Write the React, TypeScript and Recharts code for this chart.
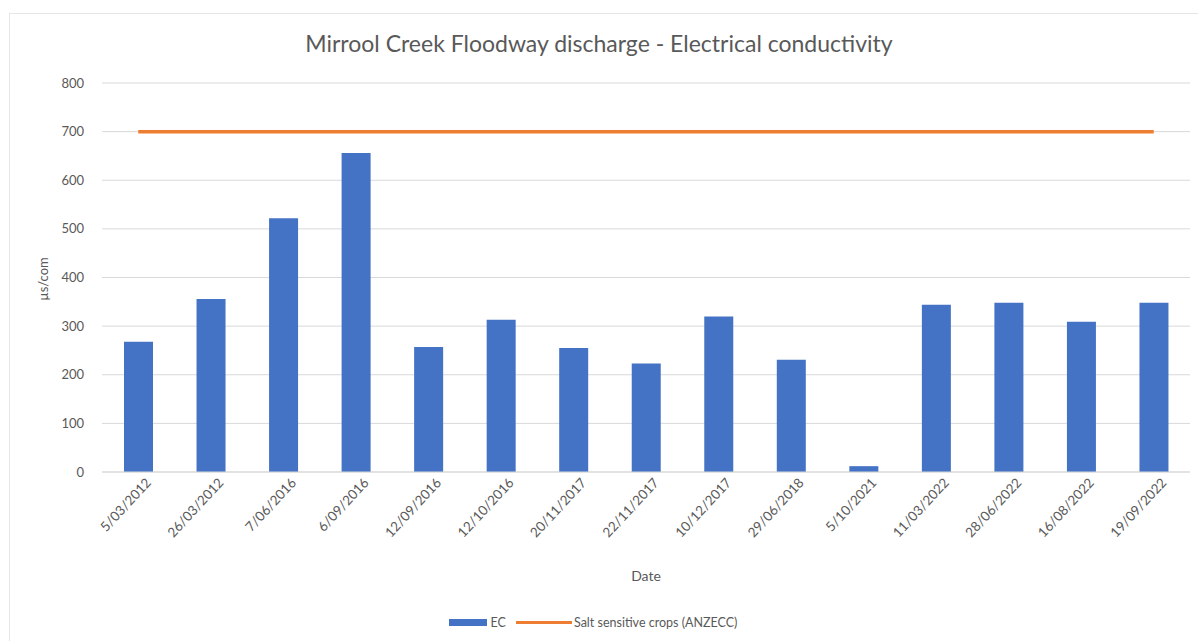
import React from 'react';
import { ComposedChart, Bar, Line, XAxis, YAxis, CartesianGrid, Legend } from 'recharts';

const dates = [
  '5/03/2012', '26/03/2012', '7/06/2016', '6/09/2016', '12/09/2016',
  '12/10/2016', '20/11/2017', '22/11/2017', '10/12/2017', '29/06/2018',
  '5/10/2021', '11/03/2022', '28/06/2022', '16/08/2022', '19/09/2022',
];
const ecValues = [268, 356, 522, 656, 257, 313, 255, 223, 320, 231, 12, 344, 348, 309, 348];
const saltSensitive = [700, 700, 700, 700, 700, 700, 700, 700, 700, 700, 700, 700, 700, 700, 700];
const yTicks = [0, 100, 200, 300, 400, 500, 600, 700, 800];

const data = dates.map((date, i) => ({ date, ec: ecValues[i], salt: saltSensitive[i] }));

const FONT = 'Lato, "Open Sans", sans-serif';
const TEXT = '#595959';

const DateTick = (props: any) => {
  const { x, y, payload } = props;
  return (
    <g transform={`translate(${x + 10},${y + 2})`}>
      <text x={0} y={0} dy={5} textAnchor="end" transform="rotate(-47)" fill={TEXT} fontSize={13.5} fontFamily={FONT}>
        {payload.value}
      </text>
    </g>
  );
};

const LegendContent = () => (
  <div style={{ display: 'flex', justifyContent: 'center', alignItems: 'center', height: 22, fontFamily: FONT, fontSize: 12.5, color: TEXT, paddingRight: 4 }}>
    <span style={{ display: 'inline-block', width: 38, height: 7, background: '#4472C4', marginRight: 4 }} />
    <span style={{ marginRight: 10 }}>EC</span>
    <span style={{ display: 'inline-block', width: 56, height: 3, background: '#ED7D31', marginRight: 2 }} />
    <span>Salt sensitive crops (ANZECC)</span>
  </div>
);

export default function App() {
  return (
    <div style={{ position: 'absolute', left: 0, top: 0, width: 1198, height: 641, background: '#fff', overflow: 'hidden' }}>
      <div style={{ position: 'absolute', left: 9, top: 13, width: 1200, height: 640, borderTop: '1px solid #e6e6e6', borderLeft: '1px solid #e6e6e6' }} />
      <div style={{ position: 'absolute', left: 0, top: 29, width: 1198, textAlign: 'center', fontFamily: FONT, fontSize: 23, color: TEXT }}>
        Mirrool Creek Floodway discharge - Electrical conductivity
      </div>
      <div style={{ position: 'absolute', left: 43, top: 279, transform: 'translate(-50%, -50%) rotate(-90deg)', fontFamily: FONT, fontSize: 13, color: TEXT, whiteSpace: 'nowrap' }}>
        µs/com
      </div>
      <ComposedChart
        width={1198}
        height={641}
        data={data}
        margin={{ top: 83, right: 8, left: 0, bottom: 8 }}
        style={{ position: 'absolute', left: 0, top: 0 }}
      >
        <CartesianGrid vertical={false} stroke="#d9d9d9" />
        <XAxis
          dataKey="date"
          height={139}
          interval={0}
          tick={<DateTick />}
          tickLine={false}
          axisLine={{ stroke: '#d9d9d9' }}
          tickSize={0}
          tickMargin={6}
          label={{ value: 'Date', position: 'insideBottom', offset: 30, fill: TEXT, fontSize: 14, fontFamily: FONT }}
        />
        <YAxis
          width={102}
          domain={[0, 800]}
          ticks={yTicks}
          tickLine={false}
          axisLine={false}
          tickSize={0}
          tickMargin={18}
          tick={{ fill: TEXT, fontSize: 13, fontFamily: FONT }}
        />
        <Legend verticalAlign="bottom" height={22} content={<LegendContent />} />
        <Bar dataKey="ec" name="EC" fill="#4472C4" barSize={29} isAnimationActive={false} />
        <Line
          dataKey="salt"
          name="Salt sensitive crops (ANZECC)"
          stroke="#ED7D31"
          strokeWidth={3.5}
          dot={false}
          activeDot={false}
          type="linear"
          isAnimationActive={false}
        />
      </ComposedChart>
    </div>
  );
}
